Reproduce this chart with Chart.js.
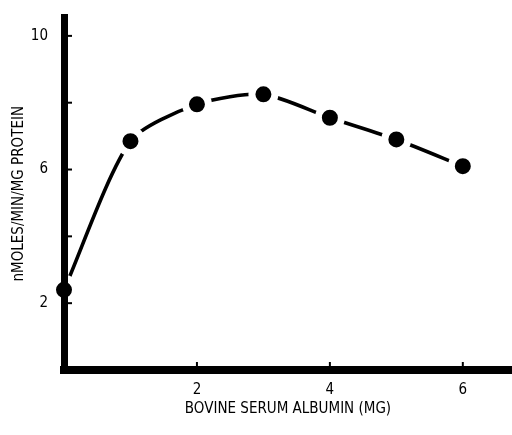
<!DOCTYPE html>
<html>
<head>
<meta charset="utf-8">
<script src="https://cdn.jsdelivr.net/npm/chart.js@4/dist/chart.umd.min.js"></script>
<style>
  html, body { margin: 0; padding: 0; background: #fff; }
  #wrap { width: 512px; height: 435px; position: relative; }
</style>
</head>
<body>
<div id="wrap"><canvas id="c"></canvas></div>
<script>
// Data
const albuminMg = [0, 1, 2, 3, 4, 5, 6];
const activity = [2.4, 6.85, 7.95, 8.25, 7.55, 6.9, 6.1];
const xTickLabels = [2, 4, 6];
const yTickLabels = [2, 6, 10];
const xTickMarks = [2, 4, 6];
const yTickMarks = [2, 4, 6, 8, 10];

const FONT = '"Liberation Sans Narrow", "DejaVu Sans Condensed", "Liberation Sans", sans-serif';
const INK = '#000';

const points = albuminMg.map((x, i) => ({ x: x, y: activity[i] }));

const tickMarkPlugin = {
  id: 'tickMarks',
  afterDraw(chart) {
    const ctx = chart.ctx;
    const xs = chart.scales.x, ys = chart.scales.y;
    const area = chart.chartArea;
    ctx.save();
    ctx.strokeStyle = INK;
    ctx.lineWidth = 2;
    yTickMarks.forEach(v => {
      const py = ys.getPixelForValue(v);
      ctx.beginPath();
      ctx.moveTo(area.left, py);
      ctx.lineTo(area.left + 8, py);
      ctx.stroke();
    });
    xTickMarks.forEach(v => {
      const px = xs.getPixelForValue(v);
      ctx.beginPath();
      ctx.moveTo(px, area.bottom);
      ctx.lineTo(px, area.bottom - 8);
      ctx.stroke();
    });
    ctx.restore();
  }
};

new Chart(document.getElementById('c'), {
  type: 'line',
  data: {
    datasets: [
      {
        // dots (drawn on top, white halo leaves gaps in the curve)
        data: points,
        showLine: false,
        clip: false,
        order: 0,
        pointBackgroundColor: INK,
        pointBorderColor: '#fff',
        pointRadius: 11.5,
        pointBorderWidth: 7,
        pointHoverRadius: 11.5,
        pointHoverBorderWidth: 7
      },
      {
        // fitted curve
        data: points,
        borderColor: INK,
        borderWidth: 3.6,
        tension: 0.25,
        fill: false,
        clip: false,
        order: 1,
        pointRadius: 0,
        pointHoverRadius: 0
      }
    ]
  },
  options: {
    responsive: true,
    maintainAspectRatio: false,
    animation: false,
    events: [],
    layout: { autoPadding: false, padding: { top: 17.5, right: 0, bottom: 0, left: 0 } },
    plugins: { legend: { display: false }, tooltip: { enabled: false } },
    scales: {
      x: {
        type: 'linear',
        min: 0,
        max: 6.74,
        afterFit: s => { s.height = 65; s.paddingLeft = 0; s.paddingRight = 0; },
        grid: { display: false, drawTicks: false },
        border: { display: true, color: INK, width: 8, z: 1 },
        ticks: {
          stepSize: 2,
          includeBounds: false,
          padding: 11,
          color: INK,
          font: { family: FONT, size: 15 },
          maxRotation: 0,
          autoSkip: false,
          callback: v => xTickLabels.includes(v) ? String(v) : ''
        },
        title: {
          display: true,
          text: 'BOVINE SERUM ALBUMIN (MG)',
          color: INK,
          font: { family: FONT, size: 15 },
          padding: { top: 0, bottom: 17 }
        }
      },
      y: {
        type: 'linear',
        min: 0,
        max: 10.55,
        afterFit: s => { s.width = 64; s.paddingTop = 0; s.paddingBottom = 0; },
        grid: { display: false, drawTicks: false },
        border: { display: true, color: INK, width: 7, z: 1 },
        ticks: {
          stepSize: 2,
          includeBounds: false,
          padding: 16,
          color: INK,
          font: { family: FONT, size: 15 },
          autoSkip: false,
          callback: v => yTickLabels.includes(v) ? String(v) : ''
        },
        title: {
          display: true,
          text: 'nMOLES/MIN/MG PROTEIN',
          color: INK,
          font: { family: FONT, size: 15 },
          padding: { top: 10, bottom: 0 }
        }
      }
    }
  },
  plugins: [tickMarkPlugin]
});
</script>
</body>
</html>
